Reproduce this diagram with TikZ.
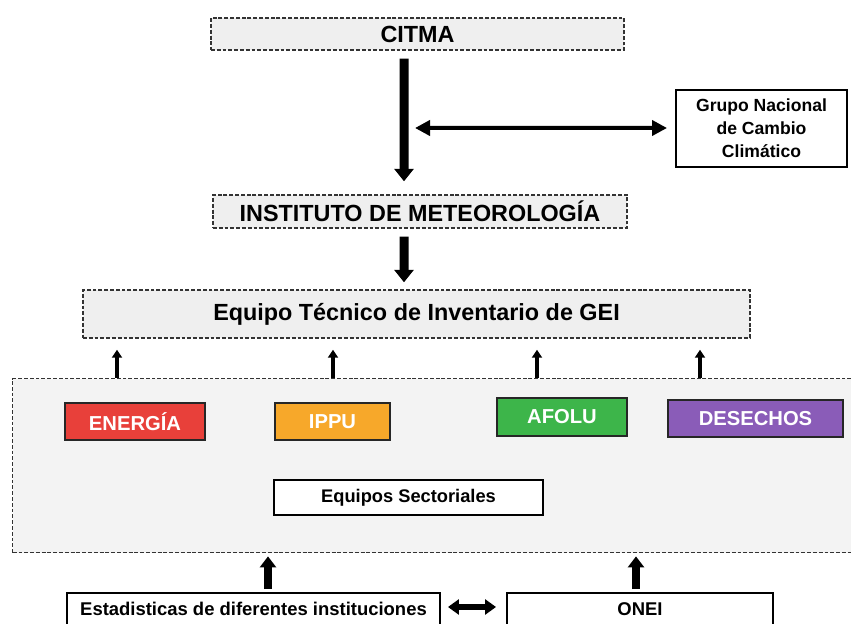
\documentclass[tikz,border=0pt]{standalone}
\usepackage{fontspec}
\setmainfont{Liberation Sans}
\usetikzlibrary{arrows.meta}

\definecolor{boxgray}{HTML}{EFEFEF}
\definecolor{panelgray}{HTML}{F3F3F3}
\definecolor{energia}{HTML}{E8403A}
\definecolor{ippu}{HTML}{F7A82A}
\definecolor{afolu}{HTML}{3DB54A}
\definecolor{desechos}{HTML}{8A5CB8}

\begin{document}
\begin{tikzpicture}[every node/.style={font=\bfseries},
    dashbox/.style={draw=black!80, dash pattern=on 2.2pt off 1.1pt, line width=0.8pt, fill=boxgray, inner sep=0pt},
    plainbox/.style={draw=black, line width=1.1pt, fill=white, inner sep=0pt, align=center},
    sector/.style={draw=black!85, line width=1.6pt, text=white, inner sep=0pt, font=\bfseries\fontsize{11.5}{13}\selectfont},
    bigarrow/.style={line width=0.18cm, -{Triangle[width=0.38cm,length=0.25cm]}},
    smallarrow/.style={line width=0.09cm, -{Triangle[width=0.2cm,length=0.16cm]}},
    midarrow/.style={line width=0.15cm, -{Triangle[width=0.32cm,length=0.22cm]}},
    twoway/.style={line width=0.08cm, {Triangle[width=0.3cm,length=0.3cm]}-{Triangle[width=0.3cm,length=0.3cm]}},
    twowaybox/.style={line width=0.12cm, {Triangle[width=0.3cm,length=0.22cm]}-{Triangle[width=0.3cm,length=0.22cm]}}]
    \clip (0,0) rectangle (17.02,-12.48);

    % Nivel superior
    \node[dashbox, minimum width=8.26cm, minimum height=0.64cm, font=\bfseries\fontsize{13.3}{15}\selectfont] (citma) at (8.35,-0.68) {CITMA};
    \node[plainbox, minimum width=3.42cm, minimum height=1.54cm, font=\bfseries\fontsize{10}{13}\selectfont] (grupo) at (15.23,-2.57) {Grupo Nacional\\de Cambio\\Climático};
    \node[dashbox, minimum width=8.28cm, minimum height=0.66cm, font=\bfseries\fontsize{13.3}{15}\selectfont] (inst) at (8.40,-4.23) {INSTITUTO DE METEOROLOGÍA};
    \node[dashbox, minimum width=13.34cm, minimum height=0.96cm, font=\bfseries\fontsize{13.3}{15}\selectfont] (equipo) at (8.33,-6.28) {Equipo Técnico de Inventario de GEI};

    \draw[bigarrow] ([xshift=-0.27cm,yshift=-0.16cm]citma.south) -- ([xshift=-0.32cm,yshift=0.26cm]inst.north);
    \coordinate (join) at (8.30,-2.56);
    \draw[twoway] (join) -- ([xshift=-0.16cm,yshift=0.01cm]grupo.west);
    \draw[bigarrow] ([xshift=-0.32cm,yshift=-0.16cm]inst.south) -- ([xshift=-0.25cm,yshift=0.14cm]equipo.north);

    % Panel de los equipos sectoriales
    \node[draw=black!80, dash pattern=on 2.2pt off 1.1pt, line width=0.8pt, fill=panelgray, inner sep=0pt, minimum width=17.2cm, minimum height=3.48cm, anchor=north west] (panel) at (0.24,-7.56) {};

    \node[sector, fill=energia, minimum width=2.80cm, minimum height=0.74cm] (energ) at (2.70,-8.43) {ENERGÍA};
    \node[sector, fill=ippu, minimum width=2.30cm, minimum height=0.74cm] (ippu) at (6.65,-8.43) {IPPU};
    \node[sector, fill=afolu, minimum width=2.60cm, minimum height=0.76cm] (afolu) at (11.24,-8.34) {AFOLU};
    \node[sector, fill=desechos, minimum width=3.50cm, minimum height=0.74cm] (desech) at (15.11,-8.37) {DESECHOS};
    \node[plainbox, minimum width=5.38cm, minimum height=0.70cm, font=\bfseries\fontsize{10.4}{12}\selectfont] (sect) at (8.17,-9.95) {Equipos Sectoriales};

    % Flechas hacia el equipo técnico
    \foreach \px in {2.34,6.66,10.74,14.00}
        \draw[smallarrow] (\px,-7.56) -- ([yshift=-0.22cm]equipo.south -| \px,0);

    % Fuentes de datos
    \node[plainbox, minimum width=7.46cm, minimum height=0.94cm, font=\bfseries\fontsize{10.5}{12}\selectfont] (estad) at (5.07,-12.33) {\raisebox{0.3cm}{Estadisticas de diferentes instituciones}};
    \node[plainbox, minimum width=5.32cm, minimum height=0.94cm, font=\bfseries\fontsize{10.5}{12}\selectfont] (onei) at (12.80,-12.33) {\raisebox{0.3cm}{ONEI}};

    \draw[midarrow] ([xshift=0.29cm,yshift=0.06cm]estad.north) -- ([yshift=-0.06cm]panel.south -| 5.36,0);
    \draw[midarrow] ([xshift=-0.08cm,yshift=0.06cm]onei.north) -- ([yshift=-0.06cm]panel.south -| 12.72,0);
    \draw[twowaybox] ([xshift=0.14cm,yshift=0.19cm]estad.east) -- ([xshift=-0.2cm,yshift=0.19cm]onei.west);
\end{tikzpicture}
\end{document}
